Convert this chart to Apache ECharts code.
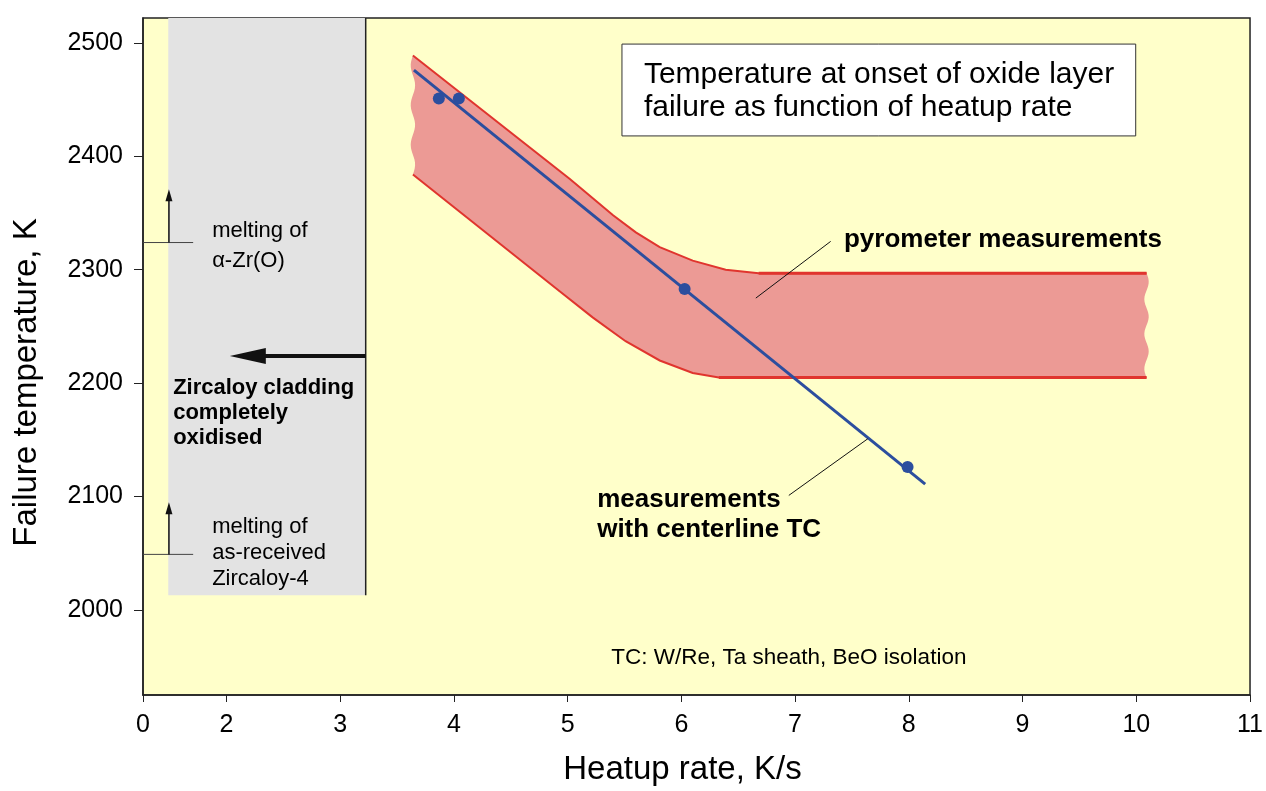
<!DOCTYPE html>
<html>
<head>
<meta charset="utf-8">
<script src="https://cdn.jsdelivr.net/npm/echarts@6/dist/echarts.min.js"></script>
<style>
html,body{margin:0;padding:0;background:#fff;}
#chart{width:1266px;height:791px;}
</style>
</head>
<body>
<div id="chart"></div>
<script>
// ---------- data ----------
const xTickValues = [1.267, 2, 3, 4, 5, 6, 7, 8, 9, 10, 11];
const xTickLabels = ['0', '2', '3', '4', '5', '6', '7', '8', '9', '10', '11'];
const yTickValues = [2000, 2100, 2200, 2300, 2400, 2500];

// pyrometer measurement band (upper / lower boundary)
const bandUpperX = [3.64, 5.02, 5.40, 5.60, 5.81, 6.10, 6.39, 6.68, 10.09];
const bandUpperY = [2489, 2380, 2348, 2333, 2320, 2308, 2300, 2297, 2297];
const bandLowerX = [3.64, 4.93, 5.22, 5.51, 5.81, 6.10, 6.33, 10.09];
const bandLowerY = [2384, 2281, 2258, 2237, 2220, 2209, 2205, 2205];

// centerline TC measurements and fit line
const tcPointsX = [3.868, 4.044, 6.029, 7.989];
const tcPointsY = [2451, 2451, 2283, 2126];
const tcLineX = [3.649, 8.144];
const tcLineY = [2476, 2111];

// completely oxidised region and melting temperatures
const oxidisedX = [1.489, 3.225];
const oxidisedBottomY = 2013;
const oxidisedArrowY = 2224;
const meltAlphaZrO = 2324;
const meltZry4 = 2049;

const X_MIN = 1.267, X_MAX = 11, Y_MIN = 1925, Y_MAX = 2522;
const FONT = 'Liberation Sans, Arial, sans-serif';

const chart = echarts.init(document.getElementById('chart'), null, {renderer: 'canvas'});

function wavy(p0, p1, amp, n) {
  const pts = [];
  const steps = 40;
  for (let i = 0; i <= steps; i++) {
    const t = i / steps;
    const y = p0[1] + (p1[1] - p0[1]) * t;
    const x = p0[0] + (p1[0] - p0[0]) * t + amp * Math.sin(t * Math.PI * 2 * n);
    pts.push([x, y]);
  }
  return pts;
}

function arrowHead(tip, dir, len, half) {
  const bx = tip[0] - dir[0] * len, by = tip[1] - dir[1] * len;
  const nx = -dir[1], ny = dir[0];
  return [tip, [bx + nx * half, by + ny * half], [bx - nx * half, by - ny * half]];
}

const option = {
  animation: false,
  backgroundColor: '#ffffff',
  grid: {
    left: 143, right: 14, top: 18, bottom: 93,
    show: true, backgroundColor: '#FFFFCA', borderColor: '#222', borderWidth: 1.5
  },
  xAxis: {
    type: 'value', min: X_MIN, max: X_MAX,
    name: 'Heatup rate, K/s', nameLocation: 'middle', nameGap: 58,
    nameTextStyle: {fontFamily: FONT, fontSize: 33, color: '#000', padding: [0, 28, 0, 0]},
    axisLine: {show: true, lineStyle: {color: '#222', width: 1.5}},
    axisTick: {show: true, length: 7, lineStyle: {color: '#222'}, customValues: xTickValues},
    axisLabel: {
      customValues: xTickValues, fontFamily: FONT, fontSize: 25, color: '#000', margin: 18,
      formatter: function (v) {
        const i = xTickValues.findIndex(t => Math.abs(t - v) < 1e-6);
        return i >= 0 ? xTickLabels[i] : '';
      }
    },
    splitLine: {show: false}
  },
  yAxis: {
    type: 'value', min: Y_MIN, max: Y_MAX,
    name: 'Failure temperature, K', nameLocation: 'middle', nameGap: 100,
    nameTextStyle: {fontFamily: FONT, fontSize: 33, color: '#000', padding: [0, 52, 0, 0]},
    axisLine: {show: true, lineStyle: {color: '#222', width: 1.5}},
    axisTick: {show: true, length: 9, lineStyle: {color: '#222'}, customValues: yTickValues},
    axisLabel: {customValues: yTickValues, fontFamily: FONT, fontSize: 25, color: '#000', margin: 20,
      formatter: function (v) { return String(v); }},
    splitLine: {show: false}
  },
  series: [
    {
      type: 'custom', silent: true, z: 1, clip: true,
      data: [[X_MIN, Y_MIN]],
      renderItem: function (params, api) {
        const tl = api.coord([oxidisedX[0], Y_MAX]);
        const br = api.coord([oxidisedX[1], oxidisedBottomY]);
        return {
          type: 'group', children: [
            {type: 'rect', shape: {x: tl[0], y: tl[1], width: br[0] - tl[0], height: br[1] - tl[1]},
             style: {fill: '#E3E3E3'}},
            {type: 'line', shape: {x1: br[0], y1: tl[1], x2: br[0], y2: br[1]},
             style: {stroke: '#222', lineWidth: 1.5}}
          ]
        };
      }
    },
    {
      type: 'custom', silent: true, z: 2, clip: true,
      data: [[X_MIN, Y_MIN]],
      renderItem: function (params, api) {
        const up = bandUpperX.map((x, i) => api.coord([x, bandUpperY[i]]));
        const lo = bandLowerX.map((x, i) => api.coord([x, bandLowerY[i]]));
        const right = wavy(up[up.length - 1], lo[lo.length - 1], 2.2, 3);
        const left = wavy(lo[0], up[0], 2.2, 3);
        const poly = up.concat(right).concat(lo.slice().reverse()).concat(left);
        return {
          type: 'group', children: [
            {type: 'polygon', shape: {points: poly}, style: {fill: '#EC9A95'}},
            {type: 'polyline', shape: {points: up}, style: {stroke: '#E0352E', lineWidth: 2, fill: null}},
            {type: 'polyline', shape: {points: lo}, style: {stroke: '#E0352E', lineWidth: 2, fill: null}},
            {type: 'line', shape: {x1: up[up.length - 2][0], y1: up[up.length - 2][1], x2: up[up.length - 1][0], y2: up[up.length - 1][1]},
             style: {stroke: '#E0352E', lineWidth: 3}},
            {type: 'line', shape: {x1: lo[lo.length - 2][0], y1: lo[lo.length - 2][1], x2: lo[lo.length - 1][0], y2: lo[lo.length - 1][1]},
             style: {stroke: '#E0352E', lineWidth: 3}}
          ]
        };
      }
    },
    {
      type: 'line', z: 3, silent: true, symbol: 'none',
      data: tcLineX.map((x, i) => [x, tcLineY[i]]),
      lineStyle: {color: '#2C4E9E', width: 3}
    },
    {
      type: 'scatter', z: 4, silent: true, symbol: 'circle', symbolSize: 12,
      data: tcPointsX.map((x, i) => [x, tcPointsY[i]]),
      itemStyle: {color: '#2C4E9E', opacity: 1}
    },
    {
      type: 'custom', silent: true, z: 5, clip: false,
      data: [[X_MIN, Y_MIN]],
      renderItem: function (params, api) {
        const c = (x, y) => api.coord([x, y]);
        const txt = (p, text, size, weight) => ({
          type: 'text', x: p[0], y: p[1],
          style: {text: text, fill: '#000', fontSize: size, fontWeight: weight || 'normal',
            fontFamily: FONT, align: 'left', verticalAlign: 'middle'}
        });
        const kids = [];
        const aS = c(oxidisedX[1], oxidisedArrowY), aT = c(2.03, oxidisedArrowY);
        kids.push({type: 'line', shape: {x1: aS[0], y1: aS[1], x2: aT[0] + 30, y2: aT[1]}, style: {stroke: '#111', lineWidth: 4}});
        kids.push({type: 'polygon', shape: {points: arrowHead(aT, [-1, 0], 36, 8)}, style: {fill: '#111'}});
        [[meltAlphaZrO, 2371], [meltZry4, 2095]].forEach(function (m) {
          const l0 = c(X_MIN, m[0]), l1 = c(1.708, m[0]);
          kids.push({type: 'line', shape: {x1: l0[0], y1: l0[1], x2: l1[0], y2: l1[1]}, style: {stroke: '#444', lineWidth: 1}});
          const b = c(1.495, m[0]), t = c(1.495, m[1]);
          kids.push({type: 'line', shape: {x1: b[0], y1: b[1], x2: t[0], y2: t[1] + 10}, style: {stroke: '#111', lineWidth: 1.5}});
          kids.push({type: 'polygon', shape: {points: arrowHead(t, [0, -1], 12, 3.5)}, style: {fill: '#111'}});
        });
        kids.push(txt(c(1.875, 2334), 'melting of', 22));
        kids.push(txt(c(1.875, 2308), 'α-Zr(O)', 22));
        kids.push(txt(c(1.875, 2073), 'melting of', 22));
        kids.push(txt(c(1.875, 2050), 'as-received', 22));
        kids.push(txt(c(1.875, 2027), 'Zircaloy-4', 22));
        kids.push(txt(c(1.532, 2196), 'Zircaloy cladding', 22, 'bold'));
        kids.push(txt(c(1.532, 2174), 'completely', 22, 'bold'));
        kids.push(txt(c(1.532, 2152), 'oxidised', 22, 'bold'));
        const p0 = c(6.655, 2275), p1 = c(7.313, 2325);
        kids.push({type: 'line', shape: {x1: p0[0], y1: p0[1], x2: p1[0], y2: p1[1]}, style: {stroke: '#111', lineWidth: 1}});
        kids.push(txt(c(7.43, 2326), 'pyrometer measurements', 26, 'bold'));
        const q0 = c(6.945, 2101), q1 = c(7.640, 2151);
        kids.push({type: 'line', shape: {x1: q0[0], y1: q0[1], x2: q1[0], y2: q1[1]}, style: {stroke: '#111', lineWidth: 1}});
        kids.push(txt(c(5.26, 2097), 'measurements', 26, 'bold'));
        kids.push(txt(c(5.26, 2071), 'with centerline TC', 26, 'bold'));
        const b0 = c(5.478, 2499), b1 = c(9.995, 2418);
        kids.push({type: 'rect', shape: {x: b0[0], y: b0[1], width: b1[0] - b0[0], height: b1[1] - b0[1]},
          style: {fill: '#ffffff', stroke: '#333', lineWidth: 1}});
        kids.push(txt(c(5.671, 2472), 'Temperature at onset of oxide layer', 30));
        kids.push(txt(c(5.671, 2443), 'failure as function of heatup rate', 30));
        kids.push(txt(c(5.384, 1958), 'TC: W/Re, Ta sheath, BeO isolation', 22.5));
        return {type: 'group', children: kids};
      }
    }
  ]
};
chart.setOption(option);
</script>
</body>
</html>
